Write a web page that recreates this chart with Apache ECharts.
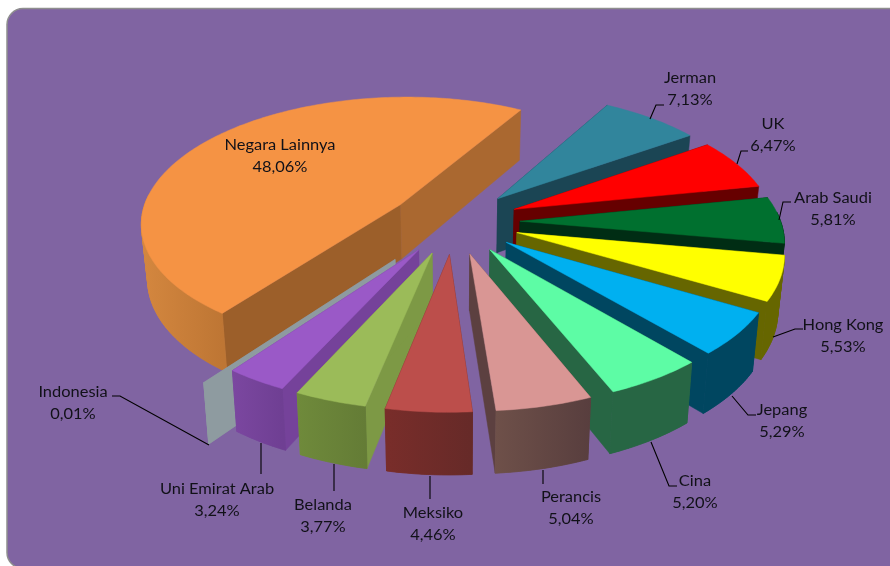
<!DOCTYPE html>
<html><head><meta charset="utf-8">
<style>html,body{margin:0;padding:0;background:#fff}#c{width:890px;height:566px}</style>
<script src="https://cdn.jsdelivr.net/npm/echarts@6/dist/echarts.min.js"></script>
</head><body><div id="c"></div>
<script>
// data
const categories = ['Negara Lainnya','Jerman','UK','Arab Saudi','Hong Kong','Jepang','Cina','Perancis','Meksiko','Belanda','Uni Emirat Arab','Indonesia'];
const shares = [48.06,7.13,6.47,5.81,5.53,5.29,5.20,5.04,4.46,3.77,3.24,0.01];
// styles, by category
const topColors = ['#F59344','#31859C','#FF0000','#00702F','#FFFF00','#00B0F0','#5DFCA5','#D99694','#BC4E4B','#9BBB59','#9A59C7','#8E9BA0'];
const rimColors = [['#D4873F','#BE7634'],['#1B4554','#1B4554'],['#660000','#660000'],['#002D14','#002D14'],['#666600','#666600'],['#004660','#004660'],['#276644','#276644'],['#6E5049','#583E3E'],['#792D2A','#662A28'],['#6F8A3B','#647C36'],['#7B47A0','#6F3F93'],['#8E9BA0','#8E9BA0']];
const startWall = ['#9C5F2A','#1B4554','#660000','#002D14','#666600','#004660','#276644','#5C4040','#6E2A28','#7D9945','#75429A','#8E9BA0'];
const endWall = ['#AA6830','#1B4554','#660000','#002D14','#666600','#004660','#276644','#5C4040','#6E2A28','#7D9945','#75429A','#8E9BA0'];
const explode = [0.2492,0.2539,0.2539,0.2539,0.2539,0.2539,0.2539,0.2539,0.2539,0.2539,0.2539,0.36];
const drawOrder = [0,1,2,3,4,5,6,7,11,10,9,8];
// projection of the tilted pie
const view = {cx:453.84, cy:221.59, a:260.70, b:126.32, p:0.1354, start:-143.05, depth:55, shrink:0.98};
// label layout: label centre, leader path
const labelLayout = {
 'Negara Lainnya':{at:[280,156],line:null},
 'Jerman':{at:[690,89],line:[[650,119],[656,105],[664,105]]},
 'UK':{at:[773,135],line:[[737,164],[741,151],[748,151]]},
 'Arab Saudi':{at:[833,209],line:[[779,220],[783,202],[791,202]]},
 'Hong Kong':{at:[843,336],line:[[773,337],[795,329],[803,329]]},
 'Jepang':{at:[782,421],line:[[732,396],[748,415],[756,415]]},
 'Cina':{at:[695,492],line:[[651,442],[669,486],[677,486]]},
 'Perancis':{at:[571,508],line:[[543,470],[543,484]]},
 'Meksiko':{at:[433,524],line:[[430,476],[430,499]]},
 'Belanda':{at:[323,516],line:[[334,464],[334,491]]},
 'Uni Emirat Arab':{at:[217,500],line:[[261,443],[261,474]]},
 'Indonesia':{at:[73,403],line:[[112,396],[120,396],[209,445]]}
};
const FONT = 'Lato';
const FONT_SIZE = 15.5;
const TEXT_STRETCH = 1.06;

const rad = d => d*Math.PI/180;
const cumStart = shares.map((_,i)=>shares.slice(0,i).reduce((s,v)=>s+v,0));

function planePoint(i, r, deg){
  const a0 = view.start + cumStart[i]*3.6, a1 = a0 + shares[i]*3.6, m = rad((a0+a1)/2);
  const X = explode[i]*Math.sin(m) + r*Math.sin(rad(deg));
  const Y = -explode[i]*Math.cos(m) - r*Math.cos(rad(deg));
  const s = 1/(1 - view.p*Y);
  const x = view.cx + view.a*X*s, y = view.cy + view.b*Y*s;
  return {deg, top:[x,y], bottom:[view.cx+(x-view.cx)*view.shrink, y+view.depth*Math.pow(s,0.7)]};
}

function renderSlice(params, api){
  const i = api.value(0);
  const a0 = view.start + cumStart[i]*3.6, a1 = a0 + api.value(1)*3.6;
  const toPx = p => api.coord(p);
  const tip = planePoint(i,0,a0);
  const arc = [];
  const n = Math.max(1, Math.ceil(a1-a0));
  for(let k=0;k<=n;k++) arc.push(planePoint(i,1,a0+(a1-a0)*k/n));
  const poly = (pts,fill) => ({type:'polygon',shape:{points:pts.map(toPx)},style:{fill,stroke:fill,lineWidth:0.5}});
  const first = arc[0], last = arc[arc.length-1];
  const children = [
    poly([tip.top,first.top,first.bottom,tip.bottom],startWall[i]),
    poly([tip.top,last.top,last.bottom,tip.bottom],endWall[i])
  ];
  // only the part of the rim that faces the viewer
  const front = arc.filter(p => Math.cos(rad(p.deg)) < 0.087);
  if(front.length > 1){
    const xs = front.map(p=>toPx(p.top)[0]);
    const rimFill = {type:'linear',global:true,x:Math.min(...xs),y:0,x2:Math.max(...xs)+0.01,y2:0,
      colorStops:[{offset:0,color:rimColors[i][0]},{offset:1,color:rimColors[i][1]}]};
    // segment quads give the silhouette at the tangent; the whole band then covers their seams
    for(let k=0;k<front.length-1;k++) children.push(poly([front[k].top,front[k+1].top,front[k+1].bottom,front[k].bottom],rimFill));
    children.push(poly(front.map(p=>p.top).concat(front.slice().reverse().map(p=>p.bottom)),rimFill));
  }
  if(shares[i] >= 0.1) children.push(poly([tip.top].concat(arc.map(p=>p.top)),topColors[i]));
  return {type:'group',children};
}

function renderLabel(params, api){
  const name = categories[api.value(0)];
  const pct = api.value(1).toFixed(2).replace('.',',')+'%';
  const lay = labelLayout[name];
  const c = api.coord(lay.at);
  const children = [{type:'text',x:c[0],y:c[1],scaleX:TEXT_STRETCH,style:{text:name+'\n'+pct,fill:'#111118',font:FONT_SIZE+'px '+FONT,align:'center',verticalAlign:'middle',lineHeight:22.5}}];
  if(lay.line) children.push({type:'polyline',shape:{points:lay.line.map(p=>api.coord(p))},style:{stroke:'#000',lineWidth:1.1,fill:'none'}});
  return {type:'group',children};
}

const chart = echarts.init(document.getElementById('c'),null,{renderer:'canvas'});
chart.setOption({
  animation:false,
  backgroundColor:'#fff',
  graphic:[{type:'rect',z:-10,silent:true,shape:{x:7,y:8.5,width:900,height:560,r:16},style:{fill:'#8064A2',stroke:'#8E8E8E',lineWidth:1.5}}],
  grid:{left:0,right:0,top:0,bottom:0},
  xAxis:{type:'value',min:0,max:890,show:false},
  yAxis:{type:'value',min:0,max:566,inverse:true,show:false},
  series:[
    {type:'custom',coordinateSystem:'cartesian2d',clip:false,silent:true,z:2,renderItem:renderSlice,encode:{x:0,y:1},
     data:drawOrder.map(i=>[i,shares[i]])},
    {type:'custom',coordinateSystem:'cartesian2d',clip:false,silent:true,z:3,renderItem:renderLabel,encode:{x:0,y:1},
     data:categories.map((c,i)=>[i,shares[i]])}
  ]
});
</script></body></html>
